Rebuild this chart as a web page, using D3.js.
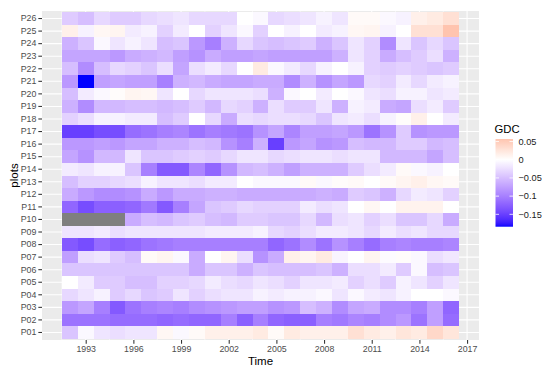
<!DOCTYPE html>
<html><head><meta charset="utf-8">
<script src="https://cdn.jsdelivr.net/npm/d3@7"></script>
<style>
html,body{margin:0;padding:0;background:#fff;}
svg{display:block;font-family:"Liberation Sans",Arial,Helvetica,sans-serif;}
</style></head>
<body><svg id="chart" width="550" height="372"></svg>
<script>
const years = [1992,1993,1994,1995,1996,1997,1998,1999,2000,2001,2002,2003,2004,2005,2006,2007,2008,2009,2010,2011,2012,2013,2014,2015,2016];
const plots = ["P01","P02","P03","P04","P05","P06","P07","P08","P09","P10","P11","P12","P13","P14","P15","P16","P17","P18","P19","P20","P21","P22","P23","P24","P25","P26"];
const xTicks = [1993,1996,1999,2002,2005,2008,2011,2014,2017];
const legendBreaks = [0.05,0,-0.05,-0.1,-0.15];

const p01 = [-0.045,-0.005,-0.02,-0.025,-0.02,-0.02,0.008,-0.005,0.005,0.015,0.015,0.015,0.02,0.005,0.02,0.015,0.015,0.015,0.03,0.02,0.015,0.025,0.02,0.038,0.025];
const p02 = [-0.11,-0.11,-0.11,-0.115,-0.115,-0.115,-0.12,-0.115,-0.12,-0.12,-0.1,-0.125,-0.1,-0.12,-0.125,-0.125,-0.1,-0.105,-0.095,-0.1,-0.09,-0.08,-0.11,-0.075,-0.115];
const p03 = [-0.08,-0.07,-0.1,-0.13,-0.11,-0.1,-0.095,-0.1,-0.09,-0.085,-0.08,-0.075,-0.075,-0.085,-0.08,-0.05,-0.06,-0.09,-0.07,-0.065,-0.09,-0.09,-0.1,-0.075,-0.12];
const p04 = [-0.03,-0.02,-0.01,-0.04,-0.03,-0.045,-0.04,-0.02,-0.035,-0.025,-0.02,-0.02,-0.01,-0.015,-0.01,-0.01,-0.005,-0.02,-0.005,-0.015,-0.02,-0.01,0,0,-0.005];
const p05 = [0,-0.015,-0.04,-0.04,-0.05,-0.05,-0.035,-0.035,-0.03,-0.015,-0.025,-0.03,-0.02,-0.025,-0.035,-0.02,-0.02,-0.015,-0.035,-0.025,-0.04,-0.01,-0.02,-0.035,-0.02];
const p06 = [-0.045,-0.045,-0.045,-0.045,-0.045,-0.045,-0.045,-0.045,-0.065,-0.045,-0.045,-0.06,-0.045,-0.05,-0.05,-0.05,-0.045,-0.06,-0.025,-0.025,-0.015,-0.04,-0.005,-0.05,-0.045];
const p07 = [-0.075,-0.025,-0.02,-0.04,-0.05,0.005,0.01,-0.005,-0.065,0,0.01,-0.025,-0.085,-0.065,0.015,0.01,0.02,-0.008,0,0.01,-0.003,0.003,-0.005,-0.025,-0.018];
const p08 = [-0.13,-0.14,-0.115,-0.125,-0.12,-0.11,-0.105,-0.1,-0.1,-0.1,-0.1,-0.1,-0.1,-0.12,-0.11,-0.09,-0.11,-0.085,-0.1,-0.115,-0.1,-0.095,-0.1,-0.1,-0.095];
const p09 = [-0.02,-0.02,-0.015,-0.025,-0.02,-0.02,-0.02,-0.02,-0.02,-0.015,-0.015,-0.015,-0.01,-0.03,-0.035,-0.025,-0.015,-0.015,-0.02,-0.03,-0.015,-0.025,-0.02,-0.03,-0.03];
const p10 = [null,null,null,null,-0.065,-0.05,-0.055,-0.045,-0.04,-0.05,-0.055,-0.04,-0.04,-0.045,-0.045,-0.03,-0.055,-0.025,-0.02,-0.035,-0.025,-0.045,-0.045,-0.03,-0.065];
const p11 = [-0.12,-0.14,-0.125,-0.125,-0.12,-0.105,-0.13,-0.1,-0.07,-0.045,-0.04,-0.03,-0.035,-0.035,-0.035,-0.015,-0.025,-0.02,0,0.008,0,0.012,0.012,0.012,0];
const p12 = [-0.065,-0.08,-0.09,-0.09,-0.085,-0.065,-0.08,-0.065,-0.065,-0.06,-0.06,-0.065,-0.065,-0.065,-0.065,-0.065,-0.06,-0.065,-0.04,-0.045,-0.06,-0.03,-0.015,-0.02,-0.035];
const p13 = [-0.05,-0.035,-0.035,-0.03,-0.025,-0.01,-0.02,-0.02,-0.025,-0.015,-0.015,0,-0.005,-0.005,-0.005,0.005,-0.005,0.003,0.005,0,0.005,0.01,0.015,0.008,0.005];
const p14 = [-0.015,-0.02,-0.01,-0.01,-0.045,-0.1,-0.13,-0.13,-0.095,-0.12,-0.085,-0.055,-0.05,-0.06,-0.075,-0.06,-0.06,-0.06,-0.04,-0.025,-0.015,0.005,-0.005,-0.01,0];
const p15 = [-0.07,-0.085,-0.055,-0.055,-0.02,-0.045,-0.045,-0.04,-0.035,-0.04,-0.03,-0.02,-0.02,-0.03,-0.025,-0.02,-0.02,-0.025,-0.02,-0.02,-0.055,-0.055,-0.055,-0.07,-0.05];
const p16 = [-0.08,-0.08,-0.075,-0.08,-0.07,-0.07,-0.06,-0.06,-0.05,-0.055,-0.085,-0.1,-0.06,-0.15,-0.08,-0.07,-0.085,-0.08,-0.05,-0.055,-0.055,-0.04,-0.04,-0.055,-0.05];
const p17 = [-0.15,-0.15,-0.14,-0.14,-0.115,-0.11,-0.1,-0.095,-0.11,-0.1,-0.105,-0.11,-0.085,-0.07,-0.095,-0.075,-0.075,-0.07,-0.08,-0.11,-0.085,-0.04,-0.085,-0.08,-0.08];
const p18 = [-0.035,-0.025,-0.01,-0.01,-0.015,-0.015,-0.05,-0.04,0,-0.03,-0.065,-0.025,-0.03,-0.025,-0.025,-0.03,-0.045,-0.02,-0.015,-0.025,-0.01,0.003,0.015,0,-0.015];
const p19 = [-0.06,-0.09,-0.055,-0.055,-0.05,-0.05,-0.055,-0.05,-0.04,-0.055,-0.03,-0.035,-0.06,-0.025,-0.04,-0.04,-0.02,-0.06,-0.01,-0.015,-0.065,-0.07,-0.025,-0.015,-0.04];
const p20 = [-0.05,-0.015,-0.005,0.003,0.01,0.008,-0.02,0,-0.03,-0.02,-0.02,-0.02,-0.025,-0.06,-0.005,0,-0.015,0,-0.005,-0.02,-0.025,-0.01,-0.01,-0.02,-0.015];
const p21 = [-0.08,-0.184,-0.075,-0.07,-0.075,-0.075,-0.1,-0.06,-0.055,-0.065,-0.07,-0.07,-0.065,-0.065,-0.09,-0.06,-0.085,-0.07,-0.08,-0.03,-0.035,-0.015,-0.03,-0.015,-0.01];
const p22 = [-0.05,-0.09,-0.05,-0.03,-0.035,-0.045,-0.025,-0.07,-0.025,-0.015,-0.03,0,0.02,-0.005,-0.015,-0.03,-0.01,0,-0.01,-0.035,-0.04,-0.035,-0.04,-0.045,-0.04];
const p23 = [-0.07,-0.07,-0.07,-0.08,-0.065,-0.06,-0.055,-0.075,-0.085,-0.065,-0.075,-0.075,-0.07,-0.075,-0.075,-0.075,-0.075,-0.06,-0.02,-0.035,-0.065,-0.05,-0.04,-0.025,-0.06];
const p24 = [-0.06,-0.045,-0.005,-0.02,-0.01,-0.02,-0.05,-0.045,-0.08,-0.1,-0.06,-0.03,-0.045,-0.05,-0.045,-0.04,-0.06,-0.045,-0.02,-0.035,-0.09,-0.02,-0.045,-0.03,-0.045];
const p25 = [0.015,-0.01,0.008,0.01,-0.015,-0.01,-0.035,-0.015,0,-0.035,-0.02,-0.005,-0.035,0,-0.01,0,-0.015,-0.01,0.008,0.01,-0.01,0,0.03,0.03,0.057];
const p26 = [-0.04,-0.05,-0.03,-0.04,-0.04,-0.03,-0.025,-0.02,-0.03,-0.03,-0.03,0,-0.005,-0.03,-0.025,-0.02,-0.01,-0.02,0.005,0.005,-0.005,-0.01,0.015,0.02,0.03];

const rows = [p01,p02,p03,p04,p05,p06,p07,p08,p09,p10,p11,p12,p13,p14,p15,p16,p17,p18,p19,p20,p21,p22,p23,p24,p25,p26];
const cells = [];
rows.forEach((r,i)=>r.forEach((v,j)=>cells.push({plot:plots[i],year:years[j],v:v})));

const svg = d3.select("#chart");
const P = {l:42, r:479, t:11, b:340};
const tickFont = "8.8px";

// scales
const x = d3.scaleLinear().domain([1990.25, 2017.75]).range([P.l, P.r]);
const unit = (P.b - P.t) / 26.2;
const y = d3.scaleBand().domain(plots).range([P.b - 0.1*unit, P.t + 0.1*unit]).padding(0);

const vals = cells.filter(d=>d.v!==null).map(d=>d.v);
const vmin = d3.min(vals), vmax = d3.max(vals);
const M = Math.max(Math.abs(vmin), Math.abs(vmax));
const toBlue = d3.interpolateLab("#ffffff", "#0000ff");
const toRed = d3.interpolateLab("#ffffff", "#ff0000");
const fill = v => v === null ? "#7f7f7f" : (v < 0 ? toBlue(-v/M) : toRed(v/M));

// panel
svg.append("rect").attr("x",P.l).attr("y",P.t).attr("width",P.r-P.l).attr("height",P.b-P.t).attr("fill","#ebebeb");
const minorX = [1991.5,1994.5,1997.5,2000.5,2003.5,2006.5,2009.5,2012.5,2015.5];
svg.append("g").selectAll("line").data(minorX).join("line")
  .attr("x1",d=>x(d)).attr("x2",d=>x(d)).attr("y1",P.t).attr("y2",P.b)
  .attr("stroke","#fff").attr("stroke-width",0.53);
svg.append("g").selectAll("line").data(xTicks).join("line")
  .attr("x1",d=>x(d)).attr("x2",d=>x(d)).attr("y1",P.t).attr("y2",P.b)
  .attr("stroke","#fff").attr("stroke-width",1.07);
svg.append("g").selectAll("line").data(plots).join("line")
  .attr("x1",P.l).attr("x2",P.r).attr("y1",d=>y(d)+y.bandwidth()/2).attr("y2",d=>y(d)+y.bandwidth()/2)
  .attr("stroke","#fff").attr("stroke-width",1.07);

// tiles
svg.append("g").attr("shape-rendering","crispEdges").selectAll("rect").data(cells).join("rect")
  .attr("x",d=>x(d.year-0.5)).attr("width",d=>x(d.year+0.5)-x(d.year-0.5))
  .attr("y",d=>y(d.plot)).attr("height",y.bandwidth())
  .attr("fill",d=>fill(d.v));

// x axis
const xa = svg.append("g").attr("transform",`translate(0,${P.b})`)
  .call(d3.axisBottom(x).tickValues(xTicks).tickFormat(d3.format("d")).tickSize(3.67).tickPadding(2.4));
xa.select(".domain").remove();
xa.selectAll(".tick line").attr("stroke","#333").attr("stroke-width",1.07);
xa.selectAll(".tick text").attr("fill","#4d4d4d").style("font-size",tickFont).style("font-family","Liberation Sans, Arial, sans-serif");

// y axis
const ya = svg.append("g").attr("transform",`translate(${P.l},0)`)
  .call(d3.axisLeft(y).tickSize(3.67).tickPadding(2));
ya.select(".domain").remove();
ya.selectAll(".tick line").attr("stroke","#333").attr("stroke-width",1.07);
ya.selectAll(".tick text").attr("fill","#4d4d4d").style("font-size",tickFont).style("font-family","Liberation Sans, Arial, sans-serif");

// axis titles
svg.append("text").attr("x",(P.l+P.r)/2).attr("y",365).attr("text-anchor","middle")
  .style("font-size","11.5px").attr("fill","#000").text("Time");
svg.append("text").attr("transform",`translate(17.5,${(P.t+P.b)/2}) rotate(-90)`).attr("text-anchor","middle")
  .style("font-size","11.5px").attr("fill","#000").text("plots");

// legend
const L = {x:495.5, w:17.5, t:139, b:226.7};
const ly = d3.scaleLinear().domain([vmin, vmax]).range([L.b, L.t]);
const defs = svg.append("defs");
const grad = defs.append("linearGradient").attr("id","gdcgrad").attr("x1",0).attr("y1",1).attr("x2",0).attr("y2",0);
d3.range(0,61).forEach(i=>{
  const v = vmin + (vmax-vmin)*i/60;
  grad.append("stop").attr("offset",(i/60*100)+"%").attr("stop-color",fill(v));
});
svg.append("rect").attr("x",L.x).attr("y",L.t).attr("width",L.w).attr("height",L.b-L.t).attr("fill","url(#gdcgrad)");
const lg = svg.append("g");
lg.selectAll("line.l").data(legendBreaks).join("line").attr("class","l")
  .attr("x1",L.x).attr("x2",L.x+L.w/5).attr("y1",d=>ly(d)).attr("y2",d=>ly(d)).attr("stroke","#fff").attr("stroke-width",0.8);
lg.selectAll("line.r").data(legendBreaks).join("line").attr("class","r")
  .attr("x1",L.x+L.w*4/5).attr("x2",L.x+L.w).attr("y1",d=>ly(d)).attr("y2",d=>ly(d)).attr("stroke","#fff").attr("stroke-width",0.8);
const fmt = d => d === 0 ? "0" : (d < 0 ? "\u2212" + String(-d) : String(d));
lg.selectAll("text").data(legendBreaks).join("text")
  .attr("x",L.x+L.w+5.5).attr("y",d=>ly(d)).attr("dy","0.35em")
  .style("font-size","9.2px").attr("fill","#1a1a1a").text(fmt);
svg.append("text").attr("x",494.5).attr("y",132.5).style("font-size","11.3px").attr("fill","#000").text("GDC");
</script></body></html>
